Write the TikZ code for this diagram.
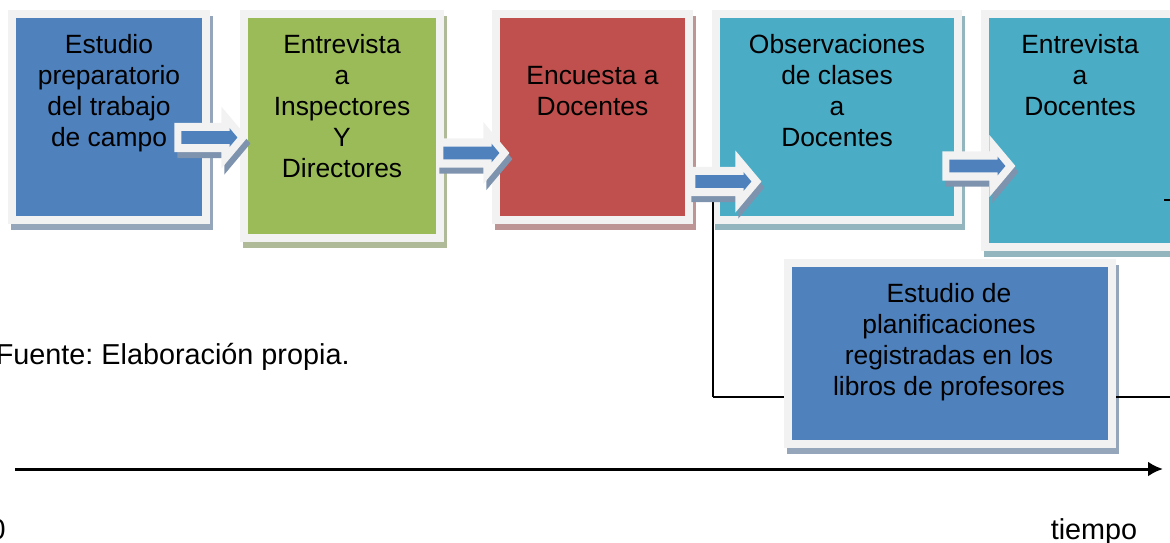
\documentclass[tikz,border=0pt]{standalone}
\usepackage{fontspec}
\setmainfont{Liberation Sans}
\usetikzlibrary{shapes.arrows,shadows,arrows.meta,positioning}
\definecolor{boxblue}{HTML}{4F81BD}
\definecolor{boxgreen}{HTML}{9BBB59}
\definecolor{boxred}{HTML}{C0504D}
\definecolor{boxteal}{HTML}{4BACC6}
\definecolor{rim}{HTML}{F2F2F2}

\begin{document}
\begin{tikzpicture}[%
    x=0.5pt, y=-0.5pt,
    font=\fontsize{13.2}{15.5}\selectfont,
    stage/.style={%
        draw=rim,
        line width=4pt,
        fill=#1,
        drop shadow={shadow xshift=1.5pt, shadow yshift=-3pt,
            fill=#1!50!gray!70!white, draw=#1!50!gray!70!white, opacity=1},
    },
    lbl/.style={%
        anchor=north,
        inner sep=0pt,
        align=center,
    },
    note/.style={%
        inner sep=0pt,
        font=\fontsize{14.4}{17}\selectfont\frenchspacing,
    },
    outarrow/.style={%
        single arrow,
        fill=rim,
        anchor=tail,
        minimum height=36.5pt,
        minimum width=31pt,
        inner xsep=0pt, inner ysep=7pt,
        single arrow head extend=8pt,
        single arrow tip angle=100,
        drop shadow={shadow xshift=1.5pt, shadow yshift=-3pt,
            fill=boxblue!50!gray!85!white, opacity=1},
    },
    inarrow/.style={%
        single arrow,
        fill=boxblue,
        minimum height=28pt,
        minimum width=9pt,
        inner xsep=0pt, inner ysep=3pt,
        single arrow head extend=1.5pt,
        single arrow tip angle=100,
    },
]
\useasboundingbox (0,0) rectangle (1170,542);

    % stages
    \node[stage=boxblue,  minimum width=97pt,  minimum height=103pt]   (b1) at (109,117) {};
    \node[stage=boxgreen, minimum width=98pt,  minimum height=112pt]   (b2) at (342,126) {};
    \node[stage=boxred,   minimum width=96.5pt, minimum height=103pt]  (b3) at (592.5,117) {};
    \node[stage=boxteal,  minimum width=121pt, minimum height=103pt]   (b4) at (837,117) {};
    \node[stage=boxteal,  minimum width=95pt,  minimum height=116.5pt] (b5) at (1080,130.5) {};

    \coordinate (c1) at (713,196);
    \coordinate (j1) at (713,397);
    \coordinate (e1) at (1172,397);
    \draw[line width=0.8pt] (c1) -- (j1);

    \node[stage=boxblue, minimum width=162pt, minimum height=90.5pt] (b6) at (950,353.5) {};
    \draw[line width=0.8pt] (j1) -- (j1 -| b6.west);
    \draw[line width=0.8pt] (j1 -| b6.east) -- (e1);

    \coordinate (e2) at (1164,200);
    \draw[line width=0.8pt] (e2) -- ++(10,0);

    \node[lbl] (t1) at (109,34)    {Estudio\\preparatorio\\del trabajo\\de campo};
    \node[lbl] (t2) at (342,34)    {Entrevista\\a\\Inspectores\\Y\\Directores};
    \node[lbl] (t3) at (592.5,66)  {Encuesta a\\Docentes};
    \node[lbl] (t4) at (837,34)    {Observaciones\\de clases\\a\\Docentes};
    \node[lbl] (t5) at (1080,34)   {Entrevista\\a\\Docentes};
    \node[lbl] (t6) at (949,283)   {Estudio de\\planificaciones\\registradas en los\\libros de profesores};

    % block arrows between stages
    \foreach \n/\xa/\ya in {1/174/137.5, 2/436/153, 3/688/181.5, 4/942/166}{%
        \node[outarrow] (a\n) at (\xa,\ya) {};
        \node[inarrow, right=3.5pt of a\n.tail, anchor=tail] (ai\n) {};
    }

    % time axis
    \coordinate (t0) at (15,469);
    \coordinate (tn) at (1163,469);
    \draw[line width=1.5pt, -{Latex[length=7.5pt, width=7.5pt]}] (t0) -- (tn);

    \node[note, anchor=base east] (src) at (350,364) {Fuente: Elaboración propia.};
    \node[note, anchor=base east] (zero) at (6,539) {0};
    \node[note, anchor=base] (tlbl) at (1094,539) {tiempo};
\end{tikzpicture}
\end{document}
